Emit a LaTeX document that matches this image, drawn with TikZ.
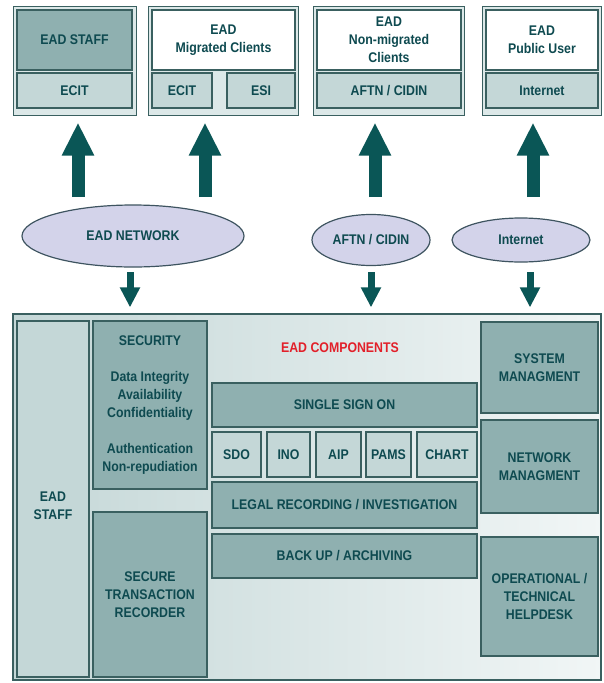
\documentclass[tikz,border=0pt]{standalone}
\usepackage{fontspec}
\newfontfamily\diafont{Liberation Sans}[BoldFont={Liberation Sans Bold},FakeStretch=0.88]
\usetikzlibrary{shapes.geometric,arrows.meta}

\definecolor{edgec}{HTML}{3A6060}
\definecolor{txtc}{HTML}{0E4A50}
\definecolor{midc}{HTML}{8FB0B0}
\definecolor{litc}{HTML}{C4D7D7}
\definecolor{framec}{HTML}{DCE8E8}
\definecolor{ellf}{HTML}{D3D3EA}
\definecolor{elle}{HTML}{3E5460}
\definecolor{arrc}{HTML}{0A5656}
\definecolor{redc}{HTML}{E2202A}

\tikzset{
  box/.style={draw=edgec, line width=1.2pt, text=txtc, align=center, inner sep=0pt,
    font=\diafont\bfseries\fontsize{14}{18}\selectfont},
  midbox/.style={box, fill=midc},
  litbox/.style={box, fill=litc},
  whitebox/.style={box, fill=white},
  frame/.style={draw=edgec, line width=1pt, fill=framec, inner sep=0pt},
  cloud/.style={ellipse, draw=elle, line width=1.2pt, fill=ellf, text=txtc, inner sep=0pt,
    font=\diafont\bfseries\fontsize{14}{17}\selectfont},
  uparr/.style={draw=arrc, line width=13pt, -{Triangle[width=30pt,length=33pt]}},
  downarr/.style={draw=arrc, line width=7pt, -{Triangle[width=19pt,length=20pt]}}
}

\begin{document}
\begin{tikzpicture}[x=1pt,y=-1pt]
\useasboundingbox (0,0) rectangle (603,683);

% top: clients
\node[frame, minimum width=123pt, minimum height=109pt](o1) at (74.5,60.5){};
\node[midbox, minimum width=115pt, minimum height=60pt](staff) at (74.5,40){EAD STAFF};
\node[litbox, minimum width=115pt, minimum height=35pt](ecit1) at (74.5,90.5){ECIT};

\node[frame, minimum width=150pt, minimum height=109pt](o2) at (223,60.5){};
\node[whitebox, minimum width=143pt, minimum height=60pt](mig) at (223.5,40){EAD\\Migrated Clients};
\node[litbox, minimum width=60pt, minimum height=35pt](ecit2) at (182,90.5){ECIT};
\node[litbox, minimum width=68pt, minimum height=35pt](esi) at (261,90.5){ESI};

\node[frame, minimum width=151pt, minimum height=109pt](o3) at (388.5,60.5){};
\node[whitebox, minimum width=144pt, minimum height=60pt](nonmig) at (389,40){EAD\\Non-migrated\\Clients};
\node[litbox, minimum width=144pt, minimum height=35pt](aftn1) at (389,90.5){AFTN / CIDIN};

\node[frame, minimum width=119pt, minimum height=109pt](o4) at (541.5,60.5){};
\node[whitebox, minimum width=112pt, minimum height=60pt](pub) at (542,40){EAD\\Public User};
\node[litbox, minimum width=112pt, minimum height=35pt](inet1) at (542,90.5){Internet};

% networks
\node[cloud, minimum width=222pt, minimum height=62pt](net) at (133,236){EAD NETWORK};
\node[cloud, minimum width=118pt, minimum height=51pt](aftn) at (371,240){AFTN / CIDIN};
\node[cloud, minimum width=138pt, minimum height=44pt](inet) at (521,240){Internet};

\coordinate (u1) at (78,197);
\coordinate (u2) at (205,197);
\coordinate (u3) at (375,197);
\coordinate (u4) at (533,197);
\draw[uparr, shorten >=7pt] (u1) -- (u1 |- o1.south);
\draw[uparr, shorten >=7pt] (u2) -- (u2 |- o2.south);
\draw[uparr, shorten >=7pt] (u3) -- (u3 |- o3.south);
\draw[uparr, shorten >=7pt] (u4) -- (u4 |- o4.south);

% components
\node[draw=edgec, line width=1.2pt, left color=litc, right color=framec!40,
  minimum width=588pt, minimum height=366pt](main) at (307,497){};

\coordinate (d1) at (130,272);
\coordinate (d2) at (371,272);
\coordinate (d3) at (530,272);
\draw[downarr, shorten >=6pt] (d1) -- (d1 |- main.north);
\draw[downarr, shorten >=6pt] (d2) -- (d2 |- main.north);
\draw[downarr, shorten >=6pt] (d3) -- (d3 |- main.north);

\node[litbox, minimum width=72pt, minimum height=356pt](col) at (53,499){};
\node[text=txtc, align=center, font=\diafont\bfseries\fontsize{14}{18}\selectfont](coltxt) at (53,506){EAD\\STAFF};
\node[midbox, minimum width=114pt, minimum height=168pt](sec) at (150,405){SECURITY\\[18pt]Data Integrity\\Availability\\Confidentiality\\[18pt]Authentication\\Non-repudiation};
\node[midbox, minimum width=114pt, minimum height=165pt](str) at (150,594.5){SECURE\\TRANSACTION\\RECORDER};

\node[text=redc, font=\diafont\bfseries\fontsize{14}{18}\selectfont](comp) at (340,348){EAD COMPONENTS};
\node[midbox, minimum width=265pt, minimum height=44pt](sso) at (344.5,405){SINGLE SIGN ON};
\node[litbox, minimum width=49pt, minimum height=45pt](sdo) at (236.5,454.5){SDO};
\node[litbox, minimum width=43pt, minimum height=45pt](ino) at (288.5,454.5){INO};
\node[litbox, minimum width=45pt, minimum height=45pt](aip) at (338.5,454.5){AIP};
\node[litbox, minimum width=45pt, minimum height=45pt](pams) at (388.5,454.5){PAMS};
\node[litbox, minimum width=60pt, minimum height=45pt](chart) at (447,454.5){CHART};
\node[midbox, minimum width=265pt, minimum height=46pt](legal) at (344.5,505){LEGAL RECORDING / INVESTIGATION};
\node[midbox, minimum width=265pt, minimum height=44pt](backup) at (344.5,556){BACK UP / ARCHIVING};

\node[midbox, minimum width=117pt, minimum height=91pt](sys) at (539.5,367.5){SYSTEM\\MANAGMENT};
\node[midbox, minimum width=117pt, minimum height=93pt](nwm) at (539.5,466.5){NETWORK\\MANAGMENT};
\node[midbox, minimum width=117pt, minimum height=119pt](ops) at (539.5,596.5){OPERATIONAL /\\TECHNICAL\\HELPDESK};

\end{tikzpicture}
\end{document}
